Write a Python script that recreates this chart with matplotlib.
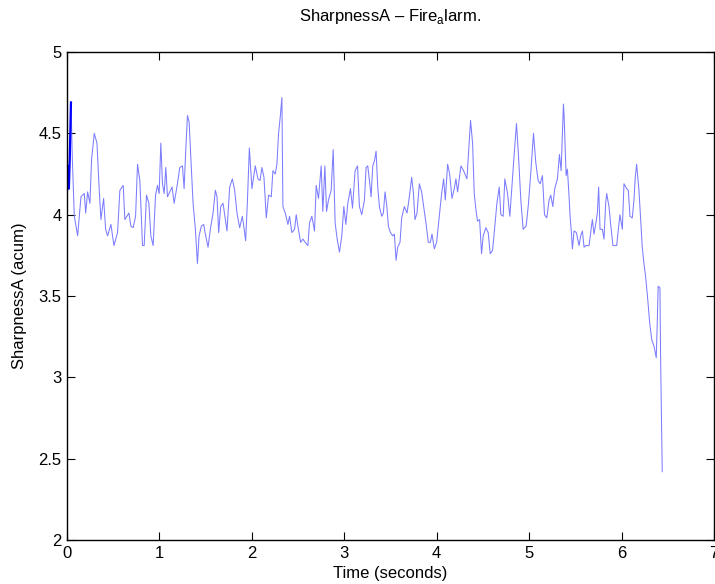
import matplotlib
matplotlib.use('Agg')
import matplotlib.pyplot as plt

# Sharpness trace (time in seconds)
time_s = [
    0.043, 0.058, 0.079, 0.115, 0.151, 0.187, 0.202, 0.223, 0.248, 0.266,
    0.295, 0.324, 0.349, 0.367, 0.396, 0.418, 0.439, 0.475, 0.508, 0.547,
    0.572, 0.608, 0.626, 0.670, 0.691, 0.716, 0.742, 0.763, 0.788, 0.817,
    0.835, 0.860, 0.886, 0.907, 0.932, 0.958, 0.979, 0.997, 1.015, 1.033,
    1.051, 1.069, 1.087, 1.137, 1.159, 1.195, 1.220, 1.249, 1.267, 1.282,
    1.303, 1.321, 1.339, 1.364, 1.389, 1.411, 1.429, 1.454, 1.479, 1.497,
    1.526, 1.551, 1.580, 1.605, 1.623, 1.641, 1.663, 1.688, 1.706, 1.731,
    1.760, 1.789, 1.814, 1.839, 1.868, 1.897, 1.915, 1.933, 1.951, 1.973,
    2.001, 2.037, 2.066, 2.088, 2.109, 2.131, 2.156, 2.181, 2.210, 2.228,
    2.253, 2.271, 2.289, 2.307, 2.325, 2.336, 2.361, 2.390, 2.408, 2.433,
    2.462, 2.480, 2.498, 2.527, 2.552, 2.577, 2.606, 2.624, 2.649, 2.678,
    2.696, 2.721, 2.750, 2.768, 2.790, 2.808, 2.829, 2.858, 2.880, 2.901,
    2.923, 2.948, 2.973, 2.995, 3.017, 3.038, 3.067, 3.089, 3.117, 3.143,
    3.164, 3.189, 3.218, 3.236, 3.254, 3.272, 3.290, 3.308, 3.326, 3.344,
    3.362, 3.380, 3.405, 3.423, 3.441, 3.459, 3.477, 3.499, 3.524, 3.542,
    3.560, 3.578, 3.603, 3.621, 3.650, 3.679, 3.704, 3.729, 3.747, 3.765,
    3.787, 3.812, 3.837, 3.866, 3.888, 3.909, 3.931, 3.949, 3.974, 3.999,
    4.028, 4.053, 4.075, 4.093, 4.118, 4.140, 4.165, 4.190, 4.208, 4.226,
    4.262, 4.291, 4.327, 4.345, 4.366, 4.388, 4.406, 4.424, 4.442, 4.464,
    4.485, 4.503, 4.532, 4.557, 4.579, 4.604, 4.629, 4.651, 4.676, 4.694,
    4.719, 4.737, 4.766, 4.791, 4.813, 4.838, 4.863, 4.885, 4.910, 4.935,
    4.968, 4.993, 5.018, 5.047, 5.072, 5.097, 5.119, 5.144, 5.166, 5.191,
    5.216, 5.234, 5.256, 5.277, 5.306, 5.328, 5.346, 5.371, 5.378, 5.400,
    5.414, 5.432, 5.443, 5.457, 5.468, 5.486, 5.511, 5.540, 5.558, 5.576,
    5.594, 5.612, 5.648, 5.666, 5.684, 5.702, 5.720, 5.738, 5.752, 5.767,
    5.792, 5.810, 5.828, 5.839, 5.864, 5.882, 5.907, 5.947, 5.965, 5.983,
    6.008, 6.026, 6.055, 6.073, 6.091, 6.116, 6.134, 6.148, 6.163, 6.188,
    6.206, 6.224, 6.242, 6.260, 6.280, 6.305, 6.327, 6.352, 6.375, 6.386,
    6.396, 6.415, 6.422, 6.440,
]
sharpness = [
    4.69, 4.34, 3.99, 3.87, 4.11, 4.13, 4.01, 4.14, 4.07, 4.34,
    4.50, 4.44, 4.15, 3.97, 4.10, 3.91, 3.87, 3.94, 3.81, 3.89,
    4.15, 4.18, 3.97, 4.01, 3.93, 3.92, 3.99, 4.31, 4.21, 3.81,
    3.81, 4.12, 4.07, 3.87, 3.81, 4.12, 4.18, 4.13, 4.44, 4.19,
    4.13, 4.29, 4.11, 4.17, 4.07, 4.19, 4.29, 4.30, 4.16, 4.36,
    4.61, 4.57, 4.36, 4.07, 3.91, 3.70, 3.87, 3.93, 3.94, 3.88,
    3.80, 3.91, 4.01, 4.15, 4.11, 3.89, 4.05, 4.07, 4.00, 3.90,
    4.17, 4.22, 4.15, 4.01, 3.92, 3.99, 3.92, 3.84, 4.07, 4.41,
    4.16, 4.30, 4.22, 4.21, 4.29, 4.23, 3.98, 4.12, 4.11, 4.27,
    4.25, 4.31, 4.50, 4.60, 4.72, 4.05, 4.01, 3.94, 3.99, 3.89,
    3.91, 4.00, 3.93, 3.83, 3.85, 3.83, 3.81, 3.95, 3.99, 3.90,
    4.18, 4.10, 4.30, 4.02, 4.30, 4.02, 4.09, 4.15, 4.40, 3.95,
    3.85, 3.77, 3.87, 4.05, 3.94, 4.07, 4.16, 4.04, 4.27, 4.30,
    4.05, 4.00, 4.09, 4.29, 4.30, 4.21, 4.11, 4.30, 4.33, 4.39,
    4.17, 4.05, 3.99, 4.01, 4.14, 4.06, 3.93, 3.89, 3.87, 3.88,
    3.72, 3.80, 3.83, 3.98, 4.05, 4.01, 4.11, 4.23, 4.14, 3.97,
    4.01, 4.19, 4.14, 4.02, 3.93, 3.83, 3.83, 3.88, 3.79, 3.83,
    3.99, 4.13, 4.22, 4.09, 4.31, 4.25, 4.10, 4.16, 4.22, 4.14,
    4.30, 4.27, 4.22, 4.39, 4.58, 4.44, 4.13, 4.03, 3.96, 3.97,
    3.76, 3.87, 3.92, 3.89, 3.76, 3.78, 3.93, 4.07, 4.17, 4.00,
    3.99, 4.22, 4.13, 3.99, 4.17, 4.37, 4.56, 4.36, 4.09, 3.91,
    3.93, 4.07, 4.26, 4.50, 4.32, 4.21, 4.19, 4.24, 4.00, 3.98,
    4.09, 4.12, 4.05, 4.16, 4.22, 4.37, 4.27, 4.68, 4.61, 4.24,
    4.28, 4.11, 3.99, 3.89, 3.79, 3.90, 3.89, 3.81, 3.87, 3.90,
    3.80, 3.81, 3.81, 3.89, 3.97, 3.88, 3.94, 4.01, 4.17, 3.91,
    3.91, 3.85, 4.07, 4.13, 4.05, 3.94, 3.81, 3.81, 3.91, 4.00,
    3.91, 4.19, 4.16, 4.15, 3.99, 3.98, 4.09, 4.23, 4.31, 4.15,
    3.97, 3.80, 3.70, 3.62, 3.50, 3.33, 3.23, 3.19, 3.12, 3.33,
    3.56, 3.55, 3.13, 2.42,
]

# short dark segment at the very start
start_t = [0.0, 0.010, 0.020, 0.030, 0.043]
start_v = [4.15, 4.30, 4.16, 4.35, 4.69]

x_ticks = [0, 1, 2, 3, 4, 5, 6, 7]
y_ticks = [2, 2.5, 3, 3.5, 4, 4.5, 5]
y_tick_labels = ['2', '2.5', '3', '3.5', '4', '4.5', '5']

plt.rcParams['font.family'] = ['Liberation Sans', 'DejaVu Sans']
plt.rcParams['mathtext.fontset'] = 'custom'
plt.rcParams['mathtext.rm'] = 'Liberation Sans'

fig = plt.figure(figsize=(7.15, 5.84), dpi=100)
ax = fig.add_axes([67 / 715, 44 / 584, 647 / 715, 488 / 584])

ax.plot(time_s, sharpness, color='#7c7cff', linewidth=0.75)
ax.plot(start_t, start_v, color='#0000ff', linewidth=1.6)

ax.set_xlim(0, 7)
ax.set_ylim(2, 5)
ax.set_xticks(x_ticks)
ax.set_yticks(y_ticks)
ax.set_yticklabels(y_tick_labels)
ax.tick_params(direction='in', length=6, width=0.8, top=True, right=True,
               labelsize=12, pad=4)
for s in ax.spines.values():
    s.set_linewidth(1.0)

ax.set_title('SharpnessA \u2013 Fire$_\\mathrm{a}$larm.', fontsize=12, pad=22)
ax.set_xlabel('Time (seconds)', fontsize=12, labelpad=4)
ax.set_ylabel('SharpnessA (acum)', fontsize=12, labelpad=8)

plt.savefig('out.png', dpi=100)
